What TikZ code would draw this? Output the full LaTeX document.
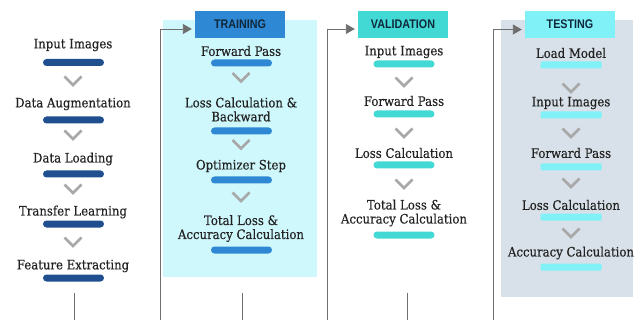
\documentclass[tikz,border=0pt]{standalone}
\usepackage{fontspec}
\usetikzlibrary{arrows.meta}
\newfontfamily\bodyfont{DejaVu Serif}[FakeStretch=0.9,FakeBold=0.35]
\newfontfamily\headfont{Liberation Sans}[FakeStretch=0.86]
\definecolor{txt}{HTML}{222222}
\definecolor{navy}{HTML}{1F4F8E}
\definecolor{trblue}{HTML}{2E88D3}
\definecolor{trbg}{HTML}{CFF8FC}
\definecolor{vaturq}{HTML}{42D8D3}
\definecolor{tecyan}{HTML}{7FF1F7}
\definecolor{tebg}{HTML}{D8E1E9}
\definecolor{headtxt}{HTML}{10283C}
\definecolor{linegray}{HTML}{6E6E6E}
\definecolor{chevgray}{HTML}{A8A8A8}
\tikzset{
  lbl/.style={font=\bodyfont\fontsize{13}{14}\selectfont, text=txt, align=center, inner sep=0pt},
  barbox/.style={rectangle, rounded corners=3.5pt, minimum width=61pt, minimum height=7pt, inner sep=0pt},
  bar1/.style={barbox, fill=navy},
  bar2/.style={barbox, fill=trblue},
  bar3/.style={barbox, fill=vaturq},
  bar4/.style={barbox, fill=tecyan, rounded corners=1pt},
  headbox/.style={rectangle, minimum width=90pt, minimum height=27pt, inner sep=0pt,
     font=\headfont\bfseries\fontsize{12.5}{12.5}\selectfont, text=headtxt},
  chev/.style={draw=chevgray, line width=2.8pt},
  flow/.style={draw=linegray, line width=0.9pt, -{Triangle[length=9pt,width=10pt]}},
  plain/.style={draw=linegray, line width=0.9pt},
  pics/chevron/.style={code={\draw[chev] (-8.5,-4.5) -- (0,4) -- (8.5,-4.5);}}
}
\begin{document}
\begin{tikzpicture}[x=1pt,y=-1pt]
\useasboundingbox (0,0) rectangle (636,320);
% panels
\fill[trbg] (163,20) rectangle (317,277);
\fill[tebg] (501,20) rectangle (633,297);
% headers
\node[headbox, fill=trblue] (trh) at (240,24.5) {TRAINING};
\node[headbox, fill=vaturq] (vah) at (403,24.5) {VALIDATION};
\node[headbox, fill=tecyan] (teh) at (570,24.5) {TESTING};
% column 1
\node[lbl] (a1) at (73,45) {Input Images};
\node[bar1] (ab1) at (73.5,62.5) {};
\pic at (73,81) {chevron};
\node[lbl] (a2) at (73,104) {Data Augmentation};
\node[bar1] (ab2) at (73.5,120) {};
\pic at (73,135) {chevron};
\node[lbl] (a3) at (73,159) {Data Loading};
\node[bar1] (ab3) at (73.5,174) {};
\pic at (73,189) {chevron};
\node[lbl] (a4) at (73,212) {Transfer Learning};
\node[bar1] (ab4) at (73.5,224) {};
\pic at (73,242) {chevron};
\node[lbl] (a5) at (73,266) {Feature Extracting};
\node[bar1] (ab5) at (73.5,278) {};
% training
\node[lbl] (b1) at (241,51) {Forward Pass};
\node[bar2] (bb1) at (241.5,63) {};
\pic at (241,77.5) {chevron};
\node[lbl] (b2) at (241,109.5) {Loss Calculation \&\\Backward};
\node[bar2] (bb2) at (241.5,131) {};
\pic at (241,144.5) {chevron};
\node[lbl] (b3) at (241,166) {Optimizer Step};
\node[bar2] (bb3) at (241.5,180) {};
\pic at (241,197) {chevron};
\node[lbl] (b4) at (241,228.5) {Total Loss \&\\Accuracy Calculation};
\node[bar2] (bb4) at (241.5,250) {};
% validation
\node[lbl] (c1) at (404,52) {Input Images};
\node[bar3] (cb1) at (404,64) {};
\pic at (404,82) {chevron};
\node[lbl] (c2) at (404,101) {Forward Pass};
\node[bar3] (cb2) at (404,114) {};
\pic at (404,133) {chevron};
\node[lbl] (c3) at (404,153) {Loss Calculation};
\node[bar3] (cb3) at (404,165) {};
\pic at (404,184) {chevron};
\node[lbl] (c4) at (404,213) {Total Loss \&\\Accuracy Calculation};
\node[bar3] (cb4) at (404,235) {};
% testing
\node[lbl] (d1) at (571,53) {Load Model};
\node[bar4] (db1) at (571,65) {};
\pic at (571,88) {chevron};
\node[lbl] (d2) at (571,103) {Input Images};
\node[bar4] (db2) at (571,115) {};
\pic at (571,133) {chevron};
\node[lbl] (d3) at (571,153) {Forward Pass};
\node[bar4] (db3) at (571,167) {};
\pic at (571,183) {chevron};
\node[lbl] (d4) at (571,205) {Loss Calculation};
\node[bar4] (db4) at (571,217) {};
\pic at (571,233) {chevron};
\node[lbl] (d5) at (571,253) {Accuracy Calculation};
\node[bar4] (db5) at (571,267) {};
% connectors
\coordinate (s1) at (160,320);
\coordinate (s2) at (327,320);
\coordinate (s3) at (493,320);
\draw[flow] (s1) |- ([xshift=-3pt,yshift=-4.5pt]trh.west);
\draw[flow] (s2) |- ([xshift=-3pt,yshift=-4.5pt]vah.west);
\draw[flow] (s3) |- ([xshift=-3pt,yshift=-5pt]teh.west);
\coordinate (t1a) at (74,293); \coordinate (t1b) at (74,320);
\coordinate (t2a) at (242,293); \coordinate (t2b) at (242,320);
\coordinate (t3a) at (407,293); \coordinate (t3b) at (407,320);
\draw[plain] (t1a) -- (t1b);
\draw[plain] (t2a) -- (t2b);
\draw[plain] (t3a) -- (t3b);
\end{tikzpicture}
\end{document}
